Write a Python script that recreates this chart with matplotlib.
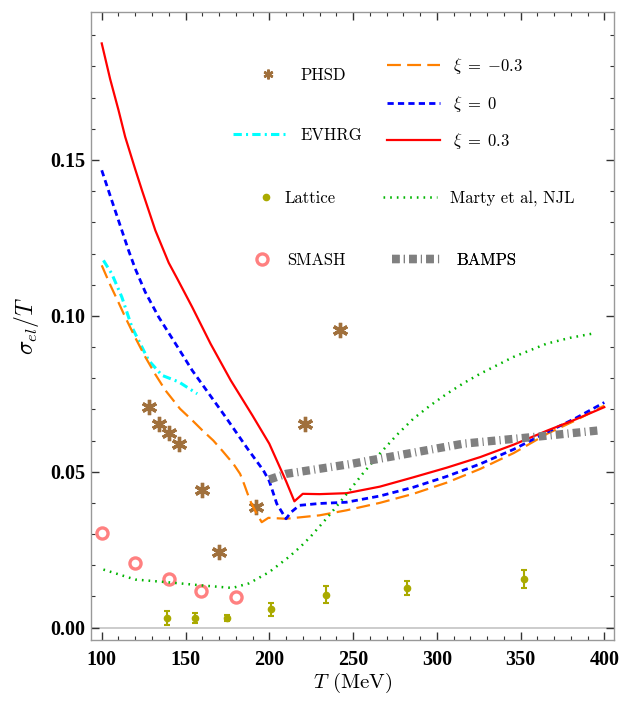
import numpy as np
import matplotlib
matplotlib.use("Agg")
import matplotlib.pyplot as plt
from matplotlib.ticker import MultipleLocator, FormatStrFormatter
from matplotlib.lines import Line2D

plt.rcParams["mathtext.fontset"] = "cm"
plt.rcParams["lines.scale_dashes"] = False

# xi = 0.3
T_p03 = [100, 105, 110, 114, 120, 124, 132, 140, 145, 154, 165, 177, 190, 200, 204.5, 210, 215,
         220, 230, 246, 266, 286, 306, 326, 346, 366, 383, 400]
s_p03 = [0.1874, 0.1760, 0.1660, 0.1574, 0.1470, 0.1403, 0.1274, 0.1170, 0.1120, 0.1028, 0.0910,
         0.0793, 0.0680, 0.0590, 0.0536, 0.0470, 0.0405,
         0.0429, 0.0428, 0.0431, 0.0452, 0.0482, 0.0513, 0.0547, 0.0587, 0.0632, 0.0668, 0.0707]

# xi = 0
T_0 = [100, 106, 112, 116, 120, 126, 134, 144, 154, 164, 174, 187, 196.5, 200, 204.5, 210, 213,
       218, 230, 246, 266, 286, 306, 326, 346, 366, 383, 400]
s_0 = [0.1467, 0.1370, 0.1274, 0.1210, 0.1151, 0.1076, 0.0996, 0.0911, 0.0825, 0.0750, 0.0675,
       0.0574, 0.0504, 0.0470, 0.0397, 0.0349, 0.0370,
       0.0392, 0.0398, 0.0402, 0.0422, 0.0450, 0.0485, 0.0525, 0.0572, 0.0627, 0.0672, 0.0722]

# xi = -0.3
T_m03 = [100, 105, 110, 114, 120, 126, 132, 138, 146.7, 154, 160, 166.6, 172, 178.6, 182.6, 185,
         188.5, 192, 195.5, 199.5, 210, 230, 246, 266, 286, 306, 326, 346, 366, 383, 400]
s_m03 = [0.1162, 0.1100, 0.1043, 0.0996, 0.0930, 0.0868, 0.0812, 0.0761, 0.0702, 0.0665, 0.0633,
         0.0600, 0.0567, 0.0525, 0.0493, 0.0460,
         0.0408, 0.0370, 0.0338, 0.0352, 0.0349, 0.0360, 0.0376, 0.0400, 0.0429, 0.0465, 0.0509,
         0.0560, 0.0622, 0.0665, 0.0712]

# EVHRG
T_ev = [101, 106, 112, 118, 128, 136, 146, 157]
s_ev = [0.1178, 0.1135, 0.1060, 0.0964, 0.0857, 0.0809, 0.0788, 0.0750]

# Marty et al, NJL
T_njl = [101, 120, 140, 160, 178, 188, 200, 211.6, 218.4, 224.4, 235, 246.3, 256, 266, 276, 286,
         296, 306, 316, 325.8, 345.7, 365.7, 380, 395]
s_njl = [0.0186, 0.0154, 0.0145, 0.0135, 0.0127, 0.0142, 0.0178, 0.0226, 0.0258, 0.0290, 0.0355,
         0.0429, 0.0495, 0.0558, 0.0617, 0.0670, 0.0712, 0.0750, 0.0784, 0.0814, 0.0868, 0.0911,
         0.0930, 0.0945]

# BAMPS
T_bamps = [200, 210, 249, 260, 316, 361, 396]
s_bamps = [0.0475, 0.0493, 0.0525, 0.0536, 0.0590, 0.0613, 0.0632]

# PHSD
T_phsd = [128, 134, 140, 146, 160, 170, 192, 221.4, 242.3]
s_phsd = [0.0707, 0.0654, 0.0624, 0.0590, 0.0442, 0.0242, 0.0386, 0.0654, 0.0953]

# SMASH
T_smash = [100, 120, 140, 159, 180]
s_smash = [0.0304, 0.0208, 0.0156, 0.0116, 0.0097]

# Lattice
T_lat = [139, 155.5, 175, 201, 234, 282, 352]
s_lat = [0.0031, 0.0030, 0.0031, 0.0058, 0.0105, 0.0127, 0.0156]
e_lat = [0.0022, 0.0016, 0.0010, 0.0022, 0.0027, 0.0021, 0.0030]

c_phsd = "#a0703c"
c_lat = "#aaaa00"
c_smash = "#ff8080"

fig = plt.figure(figsize=(6.33, 7.02), dpi=100)
ax = fig.add_axes([0.1438, 0.0883, 0.8262, 0.8947])

ax.axhline(0, color="#c8c8c8", lw=1.3, zorder=0)

ax.plot(T_phsd, s_phsd, ls="none", marker=(6, 2, 0), ms=11, mew=2.4, color=c_phsd)
l_ev, = ax.plot(T_ev, s_ev, color="#00ffff", lw=2.2, ls=(0, (6, 3, 1.5, 3)))
ax.errorbar(T_lat, s_lat, yerr=e_lat, fmt="o", ms=4.5, color=c_lat,
            elinewidth=1.5, capsize=2.5, capthick=1.5)
l_smash, = ax.plot(T_smash, s_smash, ls="none", marker="o", ms=8, mfc="none", mew=2.4, color=c_smash)
l_m03, = ax.plot(T_m03, s_m03, color="#ff8000", lw=1.6, ls=(0, (10, 4.5)))
l_0, = ax.plot(T_0, s_0, color="#0000ff", lw=2.0, ls=(0, (4.5, 3)))
l_p03, = ax.plot(T_p03, s_p03, color="#ff0000", lw=1.6)
l_njl, = ax.plot(T_njl, s_njl, color="#00b400", lw=1.8, ls=(0, (1.2, 3.6)))
l_bamps, = ax.plot(T_bamps, s_bamps, color="#808080", lw=6, ls=(0, (5.5, 3, 0.8, 3)))

# smaller legend markers, as in the original key
h_phsd = Line2D([], [], ls="none", marker=(6, 2, 0), ms=7, mew=1.8, color=c_phsd)
h_lat = Line2D([], [], ls="none", marker="o", ms=4.5, color=c_lat)

ax.set_xlim(93.6, 405.8)
ax.set_ylim(-0.004, 0.1975)
ax.xaxis.set_major_locator(MultipleLocator(50))
ax.xaxis.set_minor_locator(MultipleLocator(10))
ax.yaxis.set_major_locator(MultipleLocator(0.05))
ax.yaxis.set_minor_locator(MultipleLocator(0.01))
ax.yaxis.set_major_formatter(FormatStrFormatter("%.2f"))
ax.tick_params(which="both", direction="in", top=True, right=True, color="#333333")
ax.tick_params(which="major", length=6, width=1.0)
ax.tick_params(which="minor", length=3, width=0.8)
ax.tick_params(axis="x", pad=7)
ax.tick_params(axis="y", pad=4)
for lab in ax.get_xticklabels() + ax.get_yticklabels():
    lab.set_fontfamily("Liberation Serif")
    lab.set_fontweight("bold")
    lab.set_fontsize(14.5)
for sp in ax.spines.values():
    sp.set_color("#999999")
    sp.set_linewidth(1.0)

ax.set_xlabel(r"$T$ (MeV)", fontsize=15, family="cmr10", labelpad=1)
ax.set_ylabel(r"$\sigma_{el}/T$", fontsize=17, labelpad=7)

# legend entries placed one by one, like the original
entries = [
    (h_phsd, "PHSD", 0.3065, 0.8997, 2.0, 0.96),
    (l_ev, "EVHRG", 0.2715, 0.804, 3.12, 0.9),
    (h_lat, "Lattice", 0.318, 0.7038, 1.0, 0.6),
    (l_smash, "SMASH", 0.3105, 0.605, 1.0, 1.0),
    (l_m03, r"$\xi\;=\;{-}0.3$", 0.5654, 0.914, 3.2, 0.76),
    (l_0, r"$\xi\;=\;0$", 0.5654, 0.8535, 3.2, 0.76),
    (l_p03, r"$\xi\;=\;0.3$", 0.5654, 0.7946, 3.2, 0.76),
    (l_njl, r"Marty et al, NJL", 0.5583, 0.7038, 3.22, 0.8),
    (l_bamps, "BAMPS", 0.575, 0.605, 3.0, 0.9),
]
for h, lab, x, y, hl, pad in entries:
    leg = ax.legend([h], [lab], loc="center left", bbox_to_anchor=(x, y),
                    frameon=False, borderpad=0, borderaxespad=0, numpoints=1,
                    handlelength=hl, handletextpad=pad,
                    prop={"family": "cmr10", "size": 12})
    ax.add_artist(leg)

fig.savefig("out.png", dpi=100)
